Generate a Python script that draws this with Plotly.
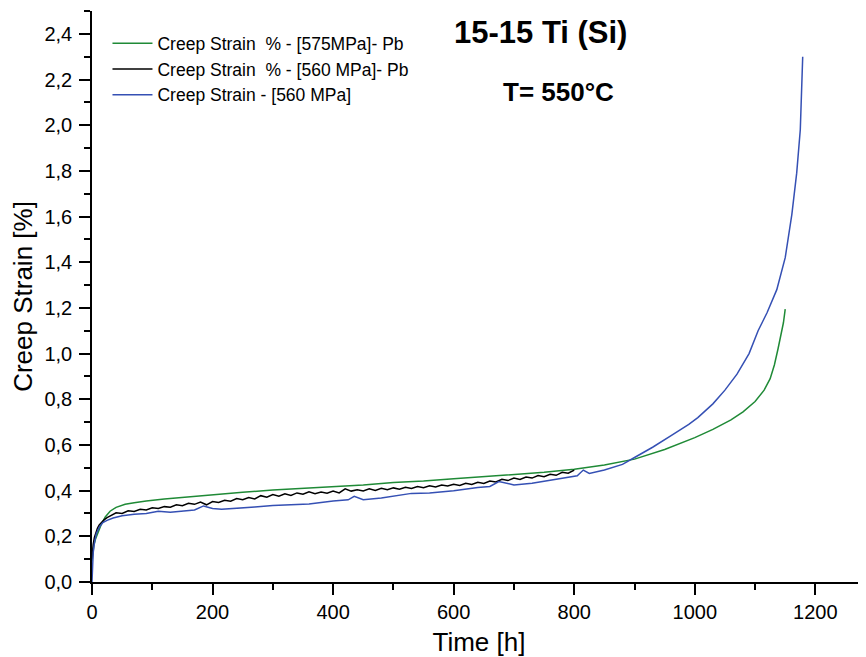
import plotly.graph_objects as go

# ---- data ----
green_name = "Creep Strain  % - [575MPa]- Pb"
green_t = [0, 1, 3, 6, 10, 15, 22, 30, 40, 55, 70, 90, 120, 150, 200, 250, 300, 350, 400, 450,
           500, 550, 600, 650, 700, 750, 800, 850, 900, 950, 1000, 1030, 1060, 1080, 1100,
           1115, 1125, 1132, 1138, 1144, 1147, 1150]
green_s = [0.09, 0.12, 0.16, 0.19, 0.22, 0.25, 0.285, 0.31, 0.327, 0.34, 0.347, 0.355, 0.363,
           0.37, 0.383, 0.393, 0.403, 0.41, 0.416, 0.425, 0.436, 0.442, 0.452, 0.462, 0.47,
           0.48, 0.494, 0.512, 0.538, 0.58, 0.632, 0.668, 0.71, 0.745, 0.79, 0.84, 0.89, 0.95,
           1.02, 1.10, 1.135, 1.195]

black_name = "Creep Strain  % - [560 MPa]- Pb"
black_t = [0, 1, 2, 4, 6, 9, 12, 16, 20, 25, 30, 40, 50, 60, 70, 80, 90, 100, 110, 120, 130,
           140, 150, 160, 170, 180, 190, 200, 210, 220, 230, 240, 250, 260, 270, 280, 290, 300,
           310, 320, 330, 340, 350, 360, 370, 380, 390, 400, 410, 420, 430, 440, 450, 460, 470,
           480, 490, 500, 510, 520, 530, 540, 550, 560, 570, 580, 590, 600, 610, 620, 630, 640,
           650, 660, 670, 680, 690, 700, 710, 720, 730, 740, 750, 760, 770, 780, 790, 800]
black_s = [0.10, 0.14, 0.165, 0.195, 0.215, 0.235, 0.25, 0.262, 0.272, 0.282, 0.29, 0.303, 0.30,
           0.312, 0.309, 0.318, 0.315, 0.325, 0.322, 0.33, 0.327, 0.338, 0.334, 0.345, 0.34,
           0.35, 0.338, 0.352, 0.348, 0.358, 0.354, 0.365, 0.36, 0.37, 0.364, 0.378, 0.371,
           0.383, 0.376, 0.386, 0.379, 0.39, 0.384, 0.395, 0.387, 0.394, 0.389, 0.398, 0.39,
           0.408, 0.398, 0.404, 0.399, 0.408, 0.401, 0.41, 0.404, 0.412, 0.406, 0.415, 0.409,
           0.418, 0.413, 0.421, 0.416, 0.425, 0.42, 0.428, 0.423, 0.432, 0.427, 0.437, 0.431,
           0.442, 0.438, 0.45, 0.444, 0.455, 0.449, 0.46, 0.455, 0.466, 0.461, 0.472, 0.467,
           0.48, 0.476, 0.49]

blue_name = "Creep Strain - [560 MPa]"
blue_t = [0, 1, 2, 4, 7, 12, 18, 25, 35, 50, 70, 90, 110, 130, 150, 170, 185, 200, 215, 240,
          270, 300, 330, 360, 400, 425, 435, 450, 480, 530, 560, 600, 640, 660, 675, 700, 730,
          760, 790, 805, 815, 825, 850, 880, 900, 930, 960, 990, 1005, 1015, 1030, 1050, 1070,
          1090, 1105, 1120, 1136, 1150, 1161, 1169, 1175, 1179]
blue_s = [0.0, 0.08, 0.13, 0.17, 0.21, 0.24, 0.26, 0.27, 0.28, 0.29, 0.297, 0.30, 0.31, 0.305,
          0.31, 0.315, 0.333, 0.322, 0.318, 0.322, 0.328, 0.335, 0.338, 0.342, 0.355, 0.36,
          0.375, 0.36, 0.368, 0.388, 0.39, 0.40, 0.414, 0.418, 0.44, 0.425, 0.432, 0.445, 0.46,
          0.465, 0.49, 0.475, 0.49, 0.515, 0.545, 0.59, 0.64, 0.69, 0.72, 0.745, 0.78, 0.84,
          0.91, 1.0, 1.10, 1.18, 1.28, 1.42, 1.61, 1.79, 1.98, 2.30]

title_main = "15-15 Ti (Si)"
title_temp = "T= 550°C"
x_title = "Time [h]"
y_title = "Creep Strain [%]"

FONT = "Arial, Liberation Sans, sans-serif"

fig = go.Figure()
fig.add_trace(go.Scatter(x=green_t, y=green_s, mode="lines", name=green_name,
                         line=dict(color="#1f8a36", width=1.5)))
fig.add_trace(go.Scatter(x=black_t, y=black_s, mode="lines", name=black_name,
                         line=dict(color="#000000", width=1.5)))
fig.add_trace(go.Scatter(x=blue_t, y=blue_s, mode="lines", name=blue_name,
                         line=dict(color="#3550b4", width=1.5)))

axis_common = dict(showgrid=False, zeroline=False, showline=True, linecolor="black",
                   linewidth=1.5, ticks="outside", ticklen=11, tickwidth=1.5,
                   tickcolor="black", automargin=False,
                   tickfont=dict(family=FONT, size=20, color="black"))

fig.update_xaxes(range=[0, 1284], dtick=200, tick0=0,
                 minor=dict(dtick=100, ticks="outside", ticklen=6, tickwidth=1.5,
                            tickcolor="black"),
                 title=dict(text=x_title, font=dict(family=FONT, size=26, color="black"),
                            standoff=13),
                 **axis_common)
fig.update_yaxes(range=[0, 2.5], dtick=0.2, tick0=0, tickformat=".1f",
                 ticklabelstandoff=3,
                 minor=dict(dtick=0.1, ticks="outside", ticklen=6, tickwidth=1.5,
                            tickcolor="black"),
                 title=dict(text=y_title, font=dict(family=FONT, size=26, color="black"),
                            standoff=5),
                 **axis_common)

fig.add_annotation(text="<b>" + title_main + "</b>", xref="paper", yref="paper",
                   x=0.579, y=0.963, xanchor="center", yanchor="middle", showarrow=False,
                   font=dict(family=FONT, size=31, color="black"))
fig.add_annotation(text="<b>" + title_temp + "</b>", xref="paper", yref="paper",
                   x=0.603, y=0.858, xanchor="center", yanchor="middle", showarrow=False,
                   font=dict(family=FONT, size=26, color="black"))

# the page body adds an 8 px offset at top-left, so the figure is 8 px smaller
fig.update_layout(
    width=858, height=649,
    margin=dict(l=84, r=0, t=3, b=75),
    paper_bgcolor="white", plot_bgcolor="white",
    separators=", ",
    font=dict(family=FONT, color="black"),
    legend=dict(x=0.02, y=0.975, xanchor="left", yanchor="top",
                bgcolor="rgba(0,0,0,0)", borderwidth=0, itemwidth=40,
                font=dict(family=FONT, size=17.5, color="black"),
                tracegroupgap=0),
    showlegend=True,
)

fig.write_html("out.html")
